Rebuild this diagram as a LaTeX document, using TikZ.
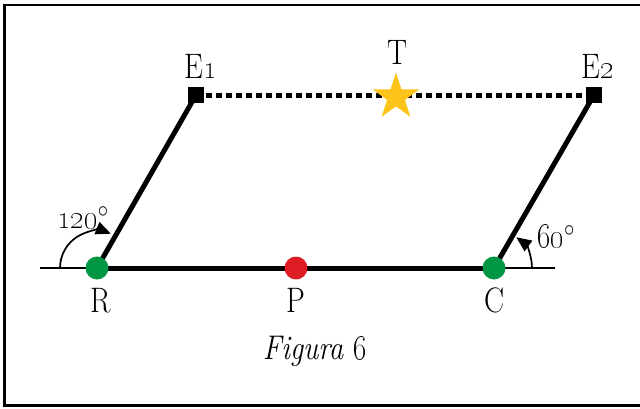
\documentclass[tikz,border=0pt]{standalone}
\usepackage{graphicx}
\usetikzlibrary{shapes.geometric,arrows.meta}
\definecolor{dotgreen}{RGB}{0,150,68}
\definecolor{dotred}{RGB}{222,30,36}
\definecolor{stargold}{RGB}{252,196,24}
\newcommand{\tallA}[1]{\scalebox{1}[1.18]{#1}}
\tikzset{
  thinln/.style={line width=2pt},
  thickln/.style={line width=5pt},
  dashln/.style={line width=5pt, dash pattern=on 6pt off 4pt},
  dot/.style={circle, inner sep=0pt, minimum size=23pt},
  sq/.style={rectangle, fill=black, inner sep=0pt, minimum size=16pt},
  lbl/.style={inner sep=0pt, anchor=base, font=\fontsize{30}{30}\selectfont},
  anglearrow/.style={line width=1.7pt, -{Triangle[length=15pt,width=13pt]}},
}
\begin{document}
\begin{tikzpicture}[x=1pt,y=1pt]
\useasboundingbox (0,0) rectangle (640,408);
\clip (0,0) rectangle (640,408);
\fill[white] (0,0) rectangle (640,408);
\draw[line width=2.6pt] (4.5,2.5) rectangle (660,403);
% points
\coordinate (L) at (40,140);
\coordinate (R) at (97,140);
\coordinate (P) at (296,140);
\coordinate (C) at (494,140);
\coordinate (Rend) at (555,140);
\coordinate (E1) at (196,313);
\coordinate (E2) at (594,313);
% lines
\draw[thinln] (L) -- (R);
\draw[thinln] (C) -- (Rend);
\draw[thickln] (R) -- (C);
\draw[thickln] (R) -- (E1);
\draw[thickln] (C) -- (E2);
\draw[dashln] (E1) -- (E2);
% angle arrows
\draw[anglearrow] ([shift={(180:37)}]R) arc[start angle=180, end angle=68, radius=37];
\draw[anglearrow] ([shift={(0:38)}]C) arc[start angle=0, end angle=54, radius=38];
% markers
\node[sq] (E1s) at (E1) {};
\node[sq] (E2s) at (E2) {};
\node[star, star points=5, star point ratio=2.618, minimum size=49pt, inner sep=0pt, fill=stargold] (Ts) at (396,311) {};
\node[dot, fill=dotgreen] (Rd) at (R) {};
\node[dot, fill=dotred] (Pd) at (P) {};
\node[dot, fill=dotgreen] (Cd) at (C) {};
% labels
\node[lbl] (Rl) at (101,96) {\tallA{R}};
\node[lbl] (Pl) at (296,96) {\tallA{P}};
\node[lbl] (Cl) at (495,96) {\tallA{C}};
\node[lbl] (E1l) at (201,329) {\tallA{E\oldstylenums{1}}};
\node[lbl] (E2l) at (598,329) {\tallA{E\oldstylenums{2}}};
\node[lbl] (Tl) at (398,343) {\tallA{T}};
\node[lbl, font=\fontsize{29}{29}\selectfont] (a120) at (83,180) {\tallA{\oldstylenums{120}$^{\circ}$}};
\node[lbl, font=\fontsize{29}{29}\selectfont] (a60) at (556,161) {\tallA{\oldstylenums{60}$^{\circ}$}};
\node[lbl, font=\fontsize{29}{29}\selectfont] (fig) at (315,49) {\tallA{\textit{Figura \oldstylenums{6}}}};
\end{tikzpicture}
\end{document}
